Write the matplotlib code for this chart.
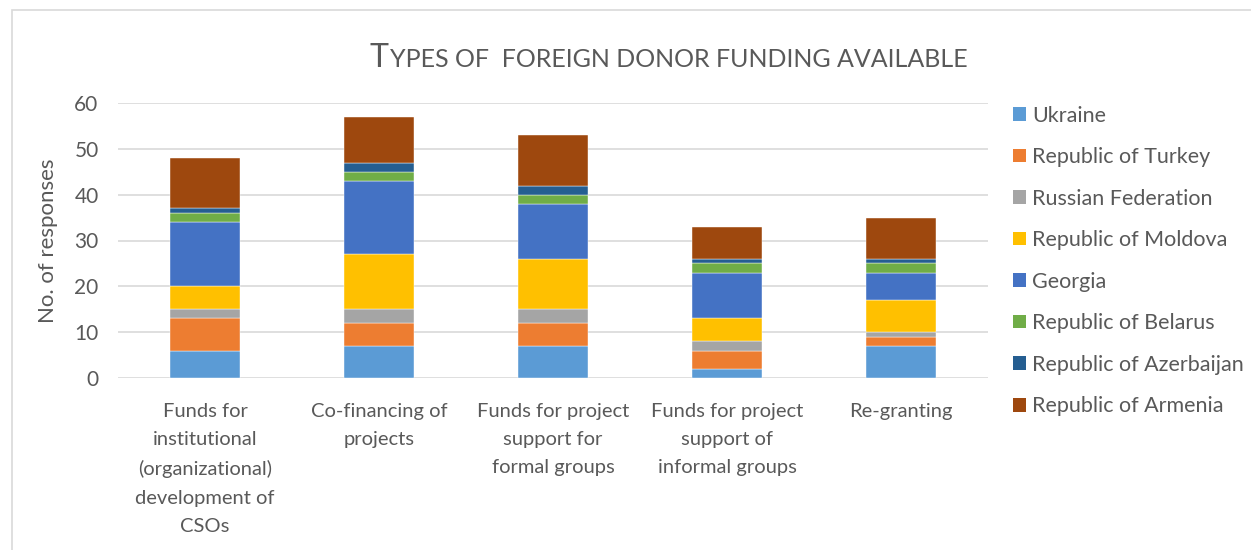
import numpy as np
import matplotlib.pyplot as plt
from matplotlib.patches import Rectangle, Patch

# --- DATA ---
categories = [
    "Funds for\ninstitutional\n(organizational)\ndevelopment of\nCSOs",
    "Co-financing of\nprojects",
    "Funds for project\nsupport for\nformal groups",
    "Funds for project\nsupport of\ninformal groups",
    "Re-granting",
]
countries = ["Ukraine", "Republic of Turkey", "Russian Federation",
             "Republic of Moldova", "Georgia", "Republic of Belarus",
             "Republic of Azerbaijan", "Republic of Armenia"]
ukraine = [6, 7, 7, 2, 7]
turkey = [7, 5, 5, 4, 2]
russia = [2, 3, 3, 2, 1]
moldova = [5, 12, 11, 5, 7]
georgia = [14, 16, 12, 10, 6]
belarus = [2, 2, 2, 2, 2]
azerbaijan = [1, 2, 2, 1, 1]
armenia = [11, 10, 11, 7, 9]

colors = ["#5B9BD5", "#ED7D31", "#A5A5A5", "#FFC000",
          "#4472C4", "#70AD47", "#255E91", "#9E480E"]
text_col = "#595959"
FONT = "Lato"

W, H = 1251, 550
fig = plt.figure(figsize=(W / 100, H / 100), dpi=100)
plt.rcParams['font.family'] = [FONT, 'DejaVu Sans']

# chart frame
fig.patches.append(Rectangle((12 / W, -0.1), 1.2, 1 - 10 / H + 0.1,
                             transform=fig.transFigure, fill=False,
                             edgecolor="#d9d9d9", linewidth=1.2))

ax = fig.add_axes([118 / W, 1 - 378 / H, 870 / W, 275 / H])

series = [ukraine, turkey, russia, moldova, georgia, belarus, azerbaijan, armenia]
x = np.arange(len(categories))
bottom = np.zeros(len(categories))
for name, vals, c in zip(countries, series, colors):
    ax.bar(x, vals, width=0.4, bottom=bottom, color=c,
           edgecolor="white", linewidth=0.3, label=name, zorder=3)
    bottom += np.array(vals)

ax.set_xlim(-0.5, len(categories) - 0.5)
ax.set_ylim(0, 60)
ax.set_yticks(range(0, 61, 10))
ax.grid(axis="y", color="#d9d9d9", linewidth=1.2, zorder=0)
for s in ax.spines.values():
    s.set_visible(False)
ax.tick_params(axis="both", length=0, labelcolor=text_col)
ax.tick_params(axis="y", pad=14, labelsize=15)
ax.tick_params(axis="x", pad=18, labelsize=14.5)
ax.set_xticks(x)
ax.set_xticklabels(categories, linespacing=1.8)
ax.set_ylabel("No. of responses", fontsize=16, color=text_col, labelpad=12)

handles = [Patch(facecolor=c, edgecolor="none") for c in colors]
fig.legend(handles, countries, loc="upper left",
           bbox_to_anchor=(1004 / W, 1 - 97 / H), frameon=False,
           fontsize=15.5, labelcolor=text_col, handlelength=0.6,
           handleheight=0.6, handletextpad=0.3, labelspacing=1.0,
           borderaxespad=0)

# small-caps title
fig.canvas.draw()
r = fig.canvas.get_renderer()
t1 = fig.text(370 / W, 1 - 67 / H, "T", fontsize=23, color=text_col,
              va="baseline", ha="left")
ext = t1.get_window_extent(r)
fig.text(ext.x1 / W + 0.0008, 1 - 67 / H, "YPES OF  FOREIGN DONOR FUNDING AVAILABLE",
         fontsize=18, color=text_col, va="baseline", ha="left")

fig.savefig("out.png", dpi=100)
